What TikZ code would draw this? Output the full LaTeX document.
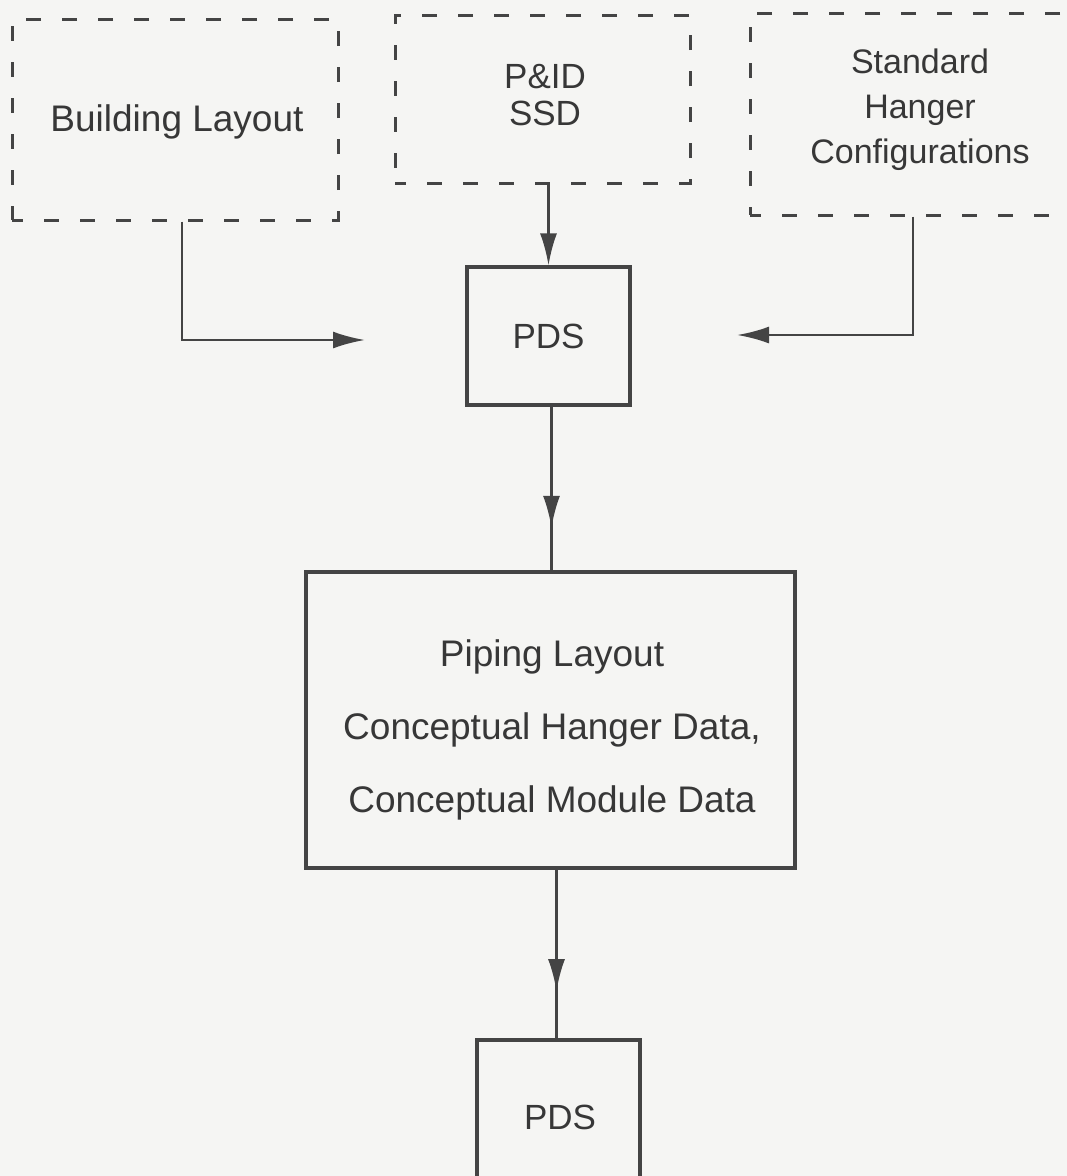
\documentclass[tikz,border=0pt]{standalone}
\usepackage{fontspec}
\setmainfont{Liberation Sans}
\usetikzlibrary{arrows.meta,decorations.markings}
\definecolor{ink}{RGB}{68,68,68}
\definecolor{txt}{RGB}{55,55,55}
\definecolor{paper}{RGB}{245,245,243}
\tikzset{
  dashbox/.style={draw=ink, line width=3pt, dash pattern=on 15pt off 21pt, dash phase=4pt, rectangle, align=center, text=txt, inner sep=0pt},
  solidbox/.style={draw=ink, line width=3.2pt, rectangle, align=center, text=txt, inner sep=0pt},
  plaintext/.style={align=center, text=txt, inner sep=0pt},
  conn/.style={draw=ink, line width=2.6pt},
  endarrow/.style={conn, -{Latex[length=32pt,width=17pt]}},
  midarrow/.style={conn, decoration={markings, mark=at position #1 with {\arrow{Latex[length=32pt,width=17pt]}}}, postaction={decorate}},
  bigtext/.style={font=\fontsize{37}{44}\selectfont},
  medtext/.style={font=\fontsize{35}{37}\selectfont},
}
\begin{document}
\begin{tikzpicture}[x=1pt,y=-1pt]
\useasboundingbox (0,0) rectangle (1067,1176);
\fill[paper] (0,0) rectangle (1067,1176);
\clip (0,0) rectangle (1067,1176);

\node[dashbox, minimum width=326pt, minimum height=201pt] (bl) at (175,119.5) {};
\node[plaintext, bigtext] (bltxt) at (177,122) {Building Layout};
\node[dashbox, minimum width=295pt, minimum height=168pt] (pid) at (542.5,99) {};
\node[plaintext, medtext] (pidtxt) at (545,95) {P\&ID\\SSD};
\node[dashbox, minimum width=340pt, minimum height=202pt] (shc) at (920,114) {};
\node[plaintext, font=\fontsize{34}{45}\selectfont] (shctxt) at (920,110) {Standard\\Hanger\\Configurations};
\node[solidbox, medtext, minimum width=163pt, minimum height=138pt] (pds1) at (548.5,336) {PDS};
\node[solidbox, minimum width=489pt, minimum height=296pt] (pip) at (550.5,720) {};
\node[plaintext, font=\fontsize{37}{73}\selectfont] (piptxt) at (552,730) {Piping Layout\\Conceptual Hanger Data,\\Conceptual Module Data};
\node[solidbox, minimum width=163pt, minimum height=160pt] (pds2) at (558.5,1120) {};
\node[plaintext, medtext] (pds2txt) at (560,1117) {PDS};

\coordinate (blend) at (365,340);
\coordinate (shend) at (737,335);

\draw[endarrow] (pid.south -| pds1.north) -- (pds1.north);
\draw[endarrow] ([xshift=7pt]bl.south) |- (blend);
\draw[endarrow] ([xshift=-7pt]shc.south) |- (shend);
\draw[midarrow=0.74] ([xshift=3pt]pds1.south) -- ([xshift=3pt]pds1.south |- pip.north);
\draw[midarrow=0.72] ([xshift=-2pt]pds2.north |- pip.south) -- ([xshift=-2pt]pds2.north);
\end{tikzpicture}
\end{document}
